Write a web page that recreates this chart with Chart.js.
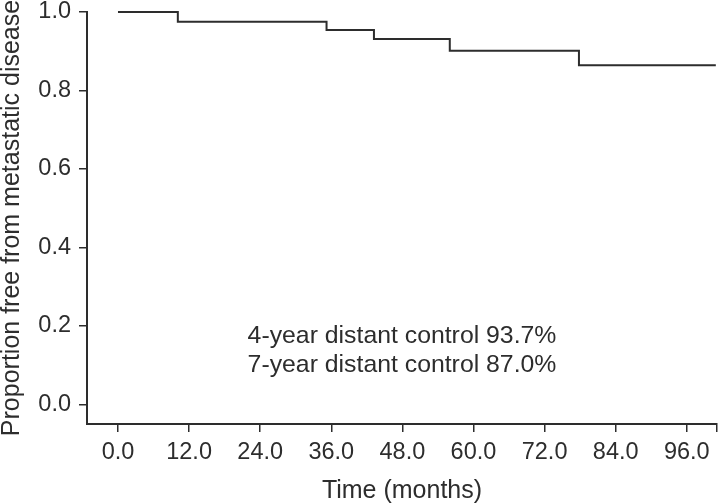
<!DOCTYPE html>
<html lang="en">
<head>
  <meta charset="UTF-8">
  <title>Distant control</title>
  <script src="https://cdn.jsdelivr.net/npm/chart.js"></script>
  <style>
    html, body { margin: 0; padding: 0; background: #fff; }
    #wrap { width: 719px; height: 504px; }
  </style>
</head>
<body>
  <div id="wrap"><canvas id="kmChart"></canvas></div>

  <script>
    // Kaplan-Meier steps
    const stepMonths = [0, 10.1, 35.2, 43.2, 56.0, 77.8, 100.9];
    const freeProportion = [1.0, 0.975, 0.954, 0.931, 0.901, 0.864, 0.864];
    const xTickValues = [0, 12, 24, 36, 48, 60, 72, 84, 96];
    const yTickValues = [0, 0.2, 0.4, 0.6, 0.8, 1.0];
    const noteLines = ['4-year distant control 93.7%', '7-year distant control 87.0%'];
    const noteValues = [0.156, 0.082];

    const xMin = -5.23, xMax = 101.1;
    const ink = '#2d2d2d';
    const fontFamily = "'Liberation Sans', Arial, Helvetica, sans-serif";

    const notePlugin = {
      id: 'notes',
      afterDraw(chart) {
        const c = chart.ctx;
        const area = chart.chartArea;
        const y = chart.scales.y;
        c.save();
        c.fillStyle = ink;
        c.font = '24.8px ' + fontFamily;
        c.textAlign = 'center';
        c.textBaseline = 'alphabetic';
        noteLines.forEach(function (t, i) {
          c.fillText(t, (area.left + area.right) / 2, y.getPixelForValue(noteValues[i]));
        });
        c.restore();
      }
    };

    var ctx = document.getElementById('kmChart').getContext('2d');
    var kmChart = new Chart(ctx, {
      type: 'line',
      data: {
        datasets: [{
          data: stepMonths.map((m, i) => ({ x: m, y: freeProportion[i] })),
          stepped: 'before',
          borderColor: ink,
          borderWidth: 2,
          pointRadius: 0,
          fill: false,
          clip: false
        }]
      },
      options: {
        responsive: true,
        maintainAspectRatio: false,
        animation: false,
        layout: { padding: { top: 12, right: 2, left: 0, bottom: 0 } },
        plugins: { legend: { display: false }, tooltip: { enabled: false } },
        scales: {
          x: {
            type: 'linear',
            min: xMin,
            max: xMax,
            afterBuildTicks(scale) {
              scale.ticks = xTickValues.map(v => ({ value: v })).concat([{ value: xMax }]);
            },
            afterFit(scale) {
              scale.height = 80;
              scale.paddingLeft = 0; scale.paddingRight = 0;
            },
            ticks: {
              autoSkip: false,
              maxRotation: 0,
              padding: 6,
              color: ink,
              font: { family: fontFamily, size: 23.5 },
              callback: (v) => (v === xMax ? '' : v.toFixed(1))
            },
            grid: { drawOnChartArea: false, drawTicks: true, tickLength: 8, color: ink, lineWidth: 1.5 },
            border: { display: true, color: ink, width: 2 },
            title: {
              display: true,
              text: 'Time (months)',
              color: ink,
              font: { family: fontFamily, size: 25, lineHeight: 1.05 },
              padding: { top: 0, bottom: 0 }
            }
          },
          y: {
            min: -0.05,
            max: 1.0,
            afterBuildTicks(scale) {
              scale.ticks = yTickValues.map(v => ({ value: v }));
            },
            afterFit(scale) {
              scale.width = 87;
              scale.paddingTop = 0; scale.paddingBottom = 0;
            },
            ticks: {
              padding: 8,
              color: ink,
              font: { family: fontFamily, size: 23.5 },
              callback: (v) => v.toFixed(1)
            },
            grid: { drawOnChartArea: false, drawTicks: true, tickLength: 8, color: ink, lineWidth: 1.5 },
            border: { display: true, color: ink, width: 2 },
            title: {
              display: true,
              text: 'Proportion free from metastatic disease',
              color: ink,
              font: { family: fontFamily, size: 25, lineHeight: 0.95 },
              padding: { top: 0, bottom: 0 }
            }
          }
        }
      },
      plugins: [notePlugin]
    });
  </script>
</body>
</html>
